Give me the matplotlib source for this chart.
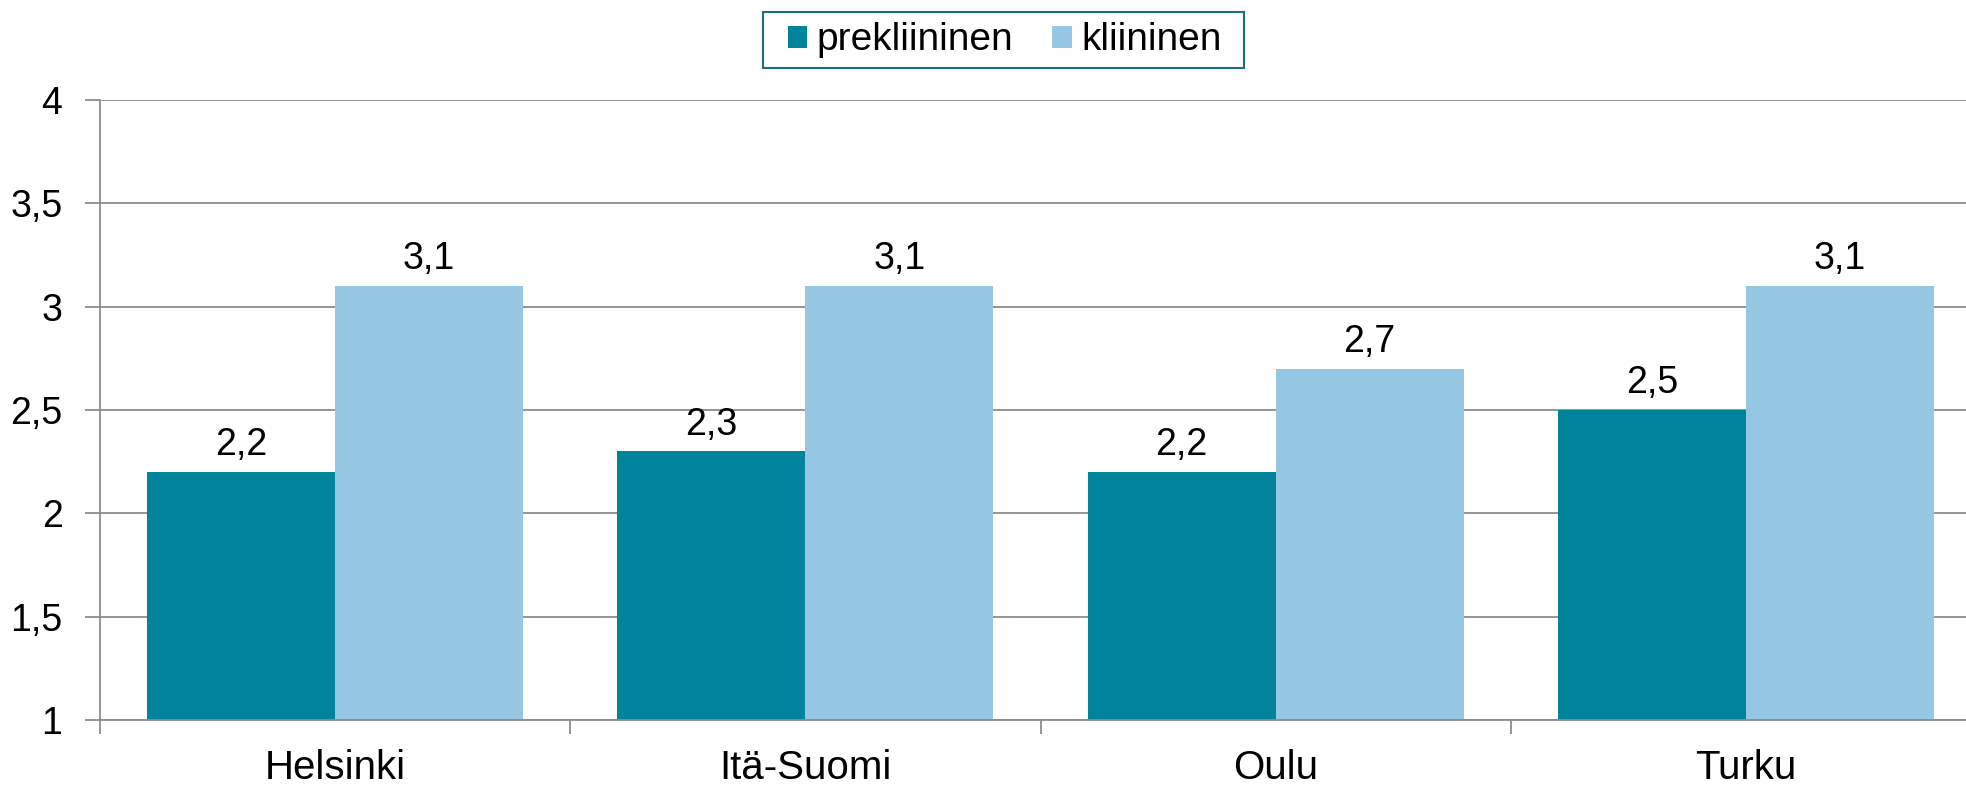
import numpy as np
import matplotlib.pyplot as plt
from matplotlib.patches import Rectangle
from matplotlib.ticker import FuncFormatter, FixedLocator

# Data
regions = ['Helsinki', 'Itä-Suomi', 'Oulu', 'Turku']
prekliininen = [2.2, 2.3, 2.2, 2.5]
kliininen = [3.1, 3.1, 2.7, 3.1]
series_names = ['prekliininen', 'kliininen']

dark = '#00849C'
light = '#95C6E2'
grid_col = '#8C8C8C'

plt.rcParams['font.family'] = ['Liberation Sans', 'DejaVu Sans']

W, H = 1966, 786
fig = plt.figure(figsize=(W / 100, H / 100), dpi=100)
# axes runs a bit past the right edge, like the original
ax = fig.add_axes([100 / W, 66 / H, 1881 / W, 620 / H])

x = np.arange(len(regions))
w = 0.4
b1 = ax.bar(x - w / 2, np.array(prekliininen) - 1, w, bottom=1, color=dark,
            label=series_names[0])
b2 = ax.bar(x + w / 2, np.array(kliininen) - 1, w, bottom=1, color=light,
            label=series_names[1])

fmt = lambda v: f'{v:g}'.replace('.', ',')
for bars, vals in ((b1, prekliininen), (b2, kliininen)):
    for rect, v in zip(bars, vals):
        ax.annotate(fmt(v), (rect.get_x() + rect.get_width() / 2, v),
                    xytext=(0, 12), textcoords='offset points',
                    ha='center', va='baseline', fontsize=27)

ax.set_ylim(1, 4)
ax.set_xlim(-0.5, len(regions) - 0.5)
ax.set_yticks(np.arange(1, 4.01, 0.5))
ax.yaxis.set_major_formatter(FuncFormatter(lambda v, p: fmt(v)))
ax.grid(True, axis='y', color=grid_col, linewidth=1.3)
ax.set_axisbelow(True)

ax.set_xticks(x)
ax.set_xticklabels(regions)
ax.xaxis.set_minor_locator(FixedLocator(np.arange(-0.5, len(regions), 1.0)))
ax.tick_params(axis='x', which='major', length=0, pad=21, labelsize=29)
ax.tick_params(axis='x', which='minor', length=10, width=1.3, color=grid_col)
ax.tick_params(axis='y', length=11, width=1.3, color=grid_col, pad=16, labelsize=27)

for s in ('top', 'right'):
    ax.spines[s].set_visible(False)
for s in ('left', 'bottom'):
    ax.spines[s].set_color(grid_col)
    ax.spines[s].set_linewidth(1.3)

# legend without its own frame, the box is drawn separately (wider padding as in the original)
leg = fig.legend(loc='center', bbox_to_anchor=(0.511, 0.9485), ncol=2, fontsize=28,
                 frameon=False, handlelength=0.5, handleheight=0.5,
                 handletextpad=0.25, columnspacing=1.0, borderpad=0)
fig.add_artist(Rectangle((763 / W, 1 - 68 / H), 481 / W, 56 / H, transform=fig.transFigure,
                         fill=False, edgecolor='#1F6E80', linewidth=1.5))

fig.savefig('out.png', dpi=100)
